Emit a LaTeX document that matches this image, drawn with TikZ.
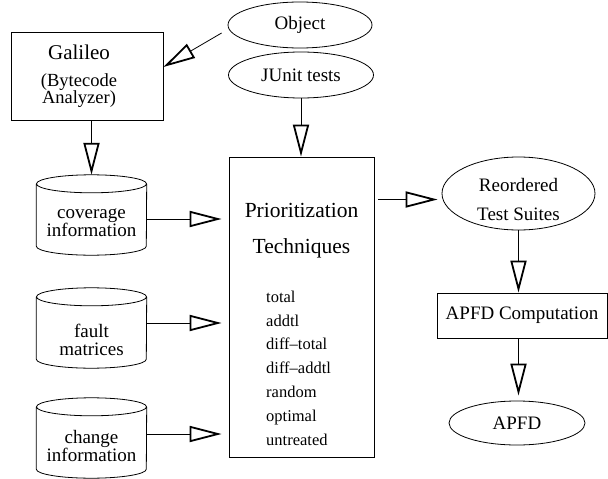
\documentclass[tikz,border=0pt]{standalone}
\usepackage{fontspec}
\setmainfont{Liberation Serif}
\usetikzlibrary{arrows.meta,shapes.geometric,positioning}

\begin{document}
\begin{tikzpicture}[x=1pt, y=-1pt,
    every node/.style={font=\fontsize{19}{18}\selectfont, inner sep=0pt},
    box/.style={draw, line width=0.8pt},
    oval/.style={draw, ellipse, line width=0.8pt},
    db/.style={minimum width=110pt, minimum height=80pt},
    tri/.style={-{Triangle[open, length=32pt, width=16pt, line width=1.8pt]}, line width=0.8pt}]
  \useasboundingbox (0,0) rectangle (608,479);
  % sources on the left
  \node[box, minimum width=152pt, minimum height=88pt] (gal) at (87,76) {};
  \node[align=center, font=\fontsize{18.5}{17}\selectfont] (galtxt) at ([xshift=-8pt]gal.center)
    {{\fontsize{21}{21}\selectfont Galileo}\\[10pt](Bytecode\\Analyzer)};
  \node[oval, minimum width=144pt, minimum height=46pt] (obj) at (300,25) {Object};
  \node[oval, minimum width=145pt, minimum height=46pt] (junit) at (301,75) {JUnit tests};
  \node[db] (cov) at (91.5,215) {};
  \node[db] (fault) at (91.5,328) {};
  \node[db] (chg) at (91.5,438) {};
  % cylinder outlines round the three data stores
  \foreach \n in {cov,fault,chg}
    \draw[line width=0.8pt] ([yshift=-9pt]\n.north west) -- ([yshift=9pt]\n.south west)
      arc[start angle=180, end angle=360, x radius=55pt, y radius=9pt]
      -- ([yshift=-9pt]\n.north east)
      ([yshift=-9pt]\n.north) ellipse [x radius=55pt, y radius=9pt];
  \node[align=center] (covtxt) at ([yshift=-8pt]cov.center) {coverage\\information};
  \node[align=center] (faulttxt) at ([yshift=-12pt]fault.center) {fault\\matrices};
  \node[align=center] (chgtxt) at ([yshift=-8pt]chg.center) {change\\information};
  % techniques box
  \node[box, minimum width=145pt, minimum height=300pt] (pri) at (301.5,307) {};
  \node[align=center, font=\fontsize{21.5}{36}\selectfont] (ptitle) at (301.5,231)
    {Prioritization\\Techniques};
  \node[align=left, anchor=north west, font=\fontsize{16.5}{23.9}\selectfont] (plist) at (266,290.5)
    {total\\addtl\\diff--total\\diff--addtl\\random\\optimal\\untreated};
  % results on the right
  \node[oval, minimum width=153pt, minimum height=73pt] (reo) at (518.5,193.5) {};
  \node[align=center, font=\fontsize{19}{28.4}\selectfont] (reotxt) at ([yshift=-6pt]reo.center)
    {Reordered\\Test Suites};
  \node[box, minimum width=170pt, minimum height=45pt] (apc) at (522,315.5) {APFD Computation};
  \node[oval, minimum width=136pt, minimum height=44pt] (apfd) at (517,423) {APFD};
  % connectors
  \draw[tri] ([xshift=-6pt, yshift=-8pt]obj.west) -- ([yshift=9pt]gal.east);
  \draw[tri] (gal.south -| cov.north) -- (cov.north);
  \draw[tri] (junit.south) -- (junit.south |- pri.north);
  \draw[tri, shorten >=7pt] ([yshift=-4pt]cov.east) -- ([yshift=-4pt]cov.east -| pri.west);
  \draw[tri, shorten >=7pt] ([yshift=5pt]fault.east) -- ([yshift=5pt]fault.east -| pri.west);
  \draw[tri, shorten >=7pt] ([yshift=4pt]chg.east) -- ([yshift=4pt]chg.east -| pri.west);
  \draw[tri] ([xshift=4pt]pri.east |- reotxt.west) -- ([xshift=-4pt]reo.west |- reotxt.west);
  \draw[tri] (reo.south) -- (reo.south |- apc.north);
  \draw[tri, shorten >=5pt] (reo.south |- apc.south) -- (reo.south |- apfd.north);
\end{tikzpicture}
\end{document}
